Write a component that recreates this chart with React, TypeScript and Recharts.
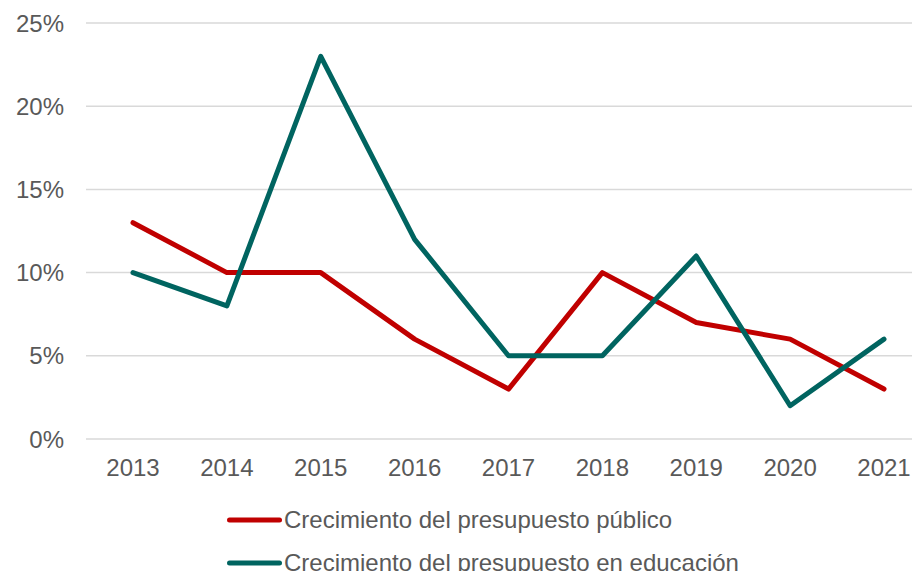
import { LineChart, Line, XAxis, YAxis, CartesianGrid, Legend } from 'recharts';

// Crecimiento anual (%)
const years = ['2013', '2014', '2015', '2016', '2017', '2018', '2019', '2020', '2021'];
const publico = [13, 10, 10, 6, 3, 10, 7, 6, 3];
const educacion = [10, 8, 23, 12, 5, 5, 11, 2, 6];
const yTicks = [0, 5, 10, 15, 20, 25];

const seriesInfo = [
  { key: 'publico', name: 'Crecimiento del presupuesto público', color: '#C00000' },
  { key: 'educacion', name: 'Crecimiento del presupuesto en educación', color: '#006460' },
];

const data = years.map((year, i) => ({
  year,
  publico: publico[i],
  educacion: educacion[i],
}));

const FONT = '"Liberation Sans", Arial, sans-serif';
const TEXT = '#595959';
const FS = 24;

const LegendRows = () => (
  <div>
    {seriesInfo.map((s) => (
      <div
        key={s.key}
        style={{ display: 'flex', alignItems: 'center', height: 43, paddingLeft: 224 }}
      >
        <svg width={61} height={8} style={{ display: 'block' }}>
          <line x1={5.5} y1={4} x2={55.5} y2={4} stroke={s.color} strokeWidth={5} strokeLinecap="round" />
        </svg>
        <span style={{ fontSize: FS, color: TEXT, whiteSpace: 'nowrap', marginLeft: -1 }}>{s.name}</span>
      </div>
    ))}
  </div>
);

export default function App() {
  return (
    <div
      style={{
        position: 'fixed',
        left: 0,
        top: 0,
        width: 912,
        height: 571,
        overflow: 'hidden',
        background: '#fff',
        fontFamily: FONT,
      }}
    >
      <LineChart width={940} height={571} data={data} margin={{ top: 23, right: 9, left: 0, bottom: 72 }}>
        <CartesianGrid vertical={false} stroke="#d9d9d9" strokeWidth={1.5} />
        <XAxis
          dataKey="year"
          height={60}
          axisLine={false}
          tickLine={false}
          tickMargin={14}
          padding={{ left: 47, right: 47 }}
          tick={{ fontSize: FS, fill: TEXT, fontFamily: FONT }}
        />
        <YAxis
          width={86}
          domain={[0, 25]}
          ticks={yTicks}
          axisLine={false}
          tickLine={false}
          tickMargin={16}
          tickFormatter={(v) => `${v}%`}
          tick={{ fontSize: FS, fill: TEXT, fontFamily: FONT }}
        />
        <Legend
          layout="horizontal"
          verticalAlign="middle"
          content={() => <LegendRows />}
          wrapperStyle={{ top: 498, left: 0, width: 912 }}
        />
        {seriesInfo.map((s) => (
          <Line
            key={s.key}
            type="linear"
            dataKey={s.key}
            name={s.name}
            stroke={s.color}
            strokeWidth={5}
            strokeLinecap="round"
            strokeLinejoin="round"
            dot={false}
            activeDot={false}
            isAnimationActive={false}
          />
        ))}
      </LineChart>
    </div>
  );
}
